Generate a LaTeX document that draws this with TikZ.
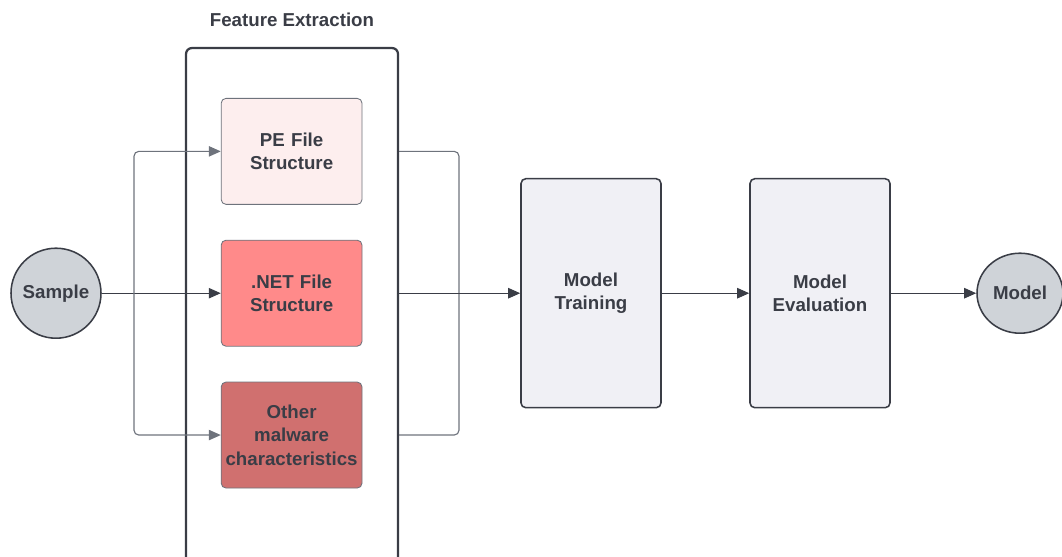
\documentclass[tikz,border=0pt]{standalone}
\usepackage{fontspec}
\setmainfont{Liberation Sans}
\usepackage{xcolor}
\usetikzlibrary{arrows.meta,positioning,shapes.geometric}

\definecolor{ink}{HTML}{3A3D46}
\definecolor{linegray}{HTML}{6E737C}
\definecolor{pefill}{HTML}{FDEEEE}
\definecolor{netfill}{HTML}{FF8A8A}
\definecolor{otherfill}{HTML}{D0706F}
\definecolor{roundfill}{HTML}{CFD3D8}
\definecolor{stepfill}{HTML}{F0F0F5}

\begin{document}
\begin{tikzpicture}[
				node distance={0.875cm},
				font=\fontsize{13.3}{16.6}\selectfont\bfseries,
				text=ink,
				group/.style = {draw=ink, line width=1.6pt, rounded corners=0.15cm, minimum width=5.3cm, minimum height=13cm},
				feature/.style = {draw=linegray, line width=0.6pt, rounded corners=0.12cm, text width=3.4cm, inner xsep=0.06cm, minimum height=2.65cm, align=center},
				stepbox/.style = {draw=ink, line width=1.1pt, fill=stepfill, rounded corners=0.12cm, minimum width=3.5cm, minimum height=5.725cm, align=center},
				endpoint/.style = {draw=ink, line width=1.1pt, fill=roundfill, inner sep=0pt},
				link/.style = {draw=linegray, line width=0.8pt, rounded corners=0.12cm},
				arrow/.style = {draw=ink, line width=0.8pt, -{Triangle[length=3mm, width=2.6mm]}}
				]
				
				\useasboundingbox (0,0) rectangle (26.55,-13.9);
				
				\node[endpoint, circle, minimum size=2.25cm] (sample) at (1.4,-7.33) {Sample};
				
				\node[group, label={[label distance=0.37cm]above:Feature Extraction}] (fe) at (7.3,-7.7) {};
				\node[feature, fill=netfill] (net) at (7.29,-7.33) {.NET File\\Structure};
				\node[feature, fill=pefill] (pe) [above=of net] {PE File\\Structure};
				\node[feature, fill=otherfill] (other) [below=of net] {Other\\malware\\characteristics};
				
				\node[stepbox] (train) at (14.775,-7.33) {Model\\Training};
				\node[stepbox] (eval) at (20.5,-7.33) {Model\\Evaluation};
				\node[endpoint, ellipse, minimum width=2.15cm, minimum height=2cm] (model) at (25.5,-7.33) {Model};
				
				\coordinate (split) at (3.35,-7.33);
				\coordinate (merge) at (11.475,-7.33);
				
				\draw[draw=ink, line width=0.8pt] (sample) -- (split);
				\draw[link, arrow, draw=linegray] (split) |- (pe);
				\draw[arrow] (split) -- (net);
				\draw[link, arrow, draw=linegray] (split) |- (other);
				
				\draw[link] (fe.east |- pe) -| (merge);
				\draw[link] (fe.east |- other) -| (merge);
				\draw[draw=ink, line width=0.8pt] (fe.east |- net) -- (merge);
				\draw[arrow] (merge) -- (train);
				\draw[arrow] (train) -- (eval);
				\draw[arrow] (eval) -- (model);
			\end{tikzpicture}
\end{document}
